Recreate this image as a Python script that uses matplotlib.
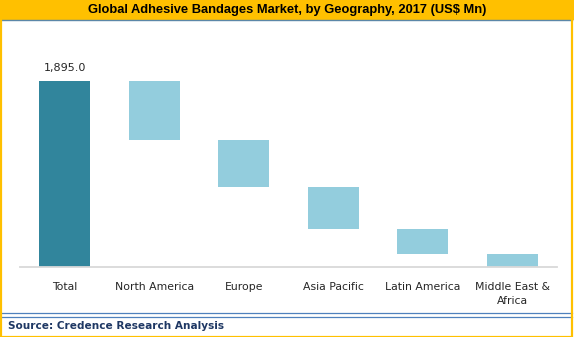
import numpy as np
import matplotlib
matplotlib.use('Agg')
import matplotlib.pyplot as plt
from matplotlib.patches import Rectangle
from matplotlib.lines import Line2D

# data
categories = ['Total', 'North America', 'Europe', 'Asia Pacific', 'Latin America', 'Middle East &\nAfrica']
total = 1895.0
regions = [601, 479, 425, 258, 132]

W, H = 574, 337
fig = plt.figure(figsize=(W/100, H/100), dpi=100)
fig.patch.set_facecolor('white')

# waterfall: each region hangs down from what is left of the total
heights = [total] + regions
bottoms = [0] + list(total - np.cumsum(regions))
colors = ['#31859C'] + ['#93CDDD']*len(regions)

ax = fig.add_axes([20/W, (H-267)/H, 537/W, 216/H])
x = np.arange(len(categories))
ax.bar(x, heights, bottom=bottoms, width=0.57, color=colors)
ax.set_xlim(-0.5, len(categories)-0.5)
ax.set_ylim(0, 2200)
ax.set_xticks(x)
ax.set_xticklabels(categories, fontsize=7.8, color='#262626', family='DejaVu Sans', linespacing=1.5)
ax.tick_params(axis='x', length=0, pad=11)
ax.set_yticks([])
for s in ['top', 'right', 'left']:
    ax.spines[s].set_visible(False)
ax.spines['bottom'].set_color('#d9d9d9')
ax.spines['bottom'].set_linewidth(1.3)

ax.text(0, total + 80, '{:,.1f}'.format(total), ha='center', va='bottom', fontsize=8, color='#262626')

# frame, title bar and source bar
gold = '#FFC000'
fig.patches.append(Rectangle((0, (H-19)/H), 1, 19/H, transform=fig.transFigure, color=gold, zorder=0))
fig.patches.append(Rectangle((0.5/W, 0.5/H), (W-3)/W, (H-1)/H, transform=fig.transFigure,
                             fill=False, edgecolor=gold, lw=1.6, zorder=5))
fig.lines.append(Line2D([0, (W-2)/W], [(H-19.5)/H]*2, transform=fig.transFigure, color='#5b87a8', lw=1))
for yy in [313, 316.5]:
    fig.lines.append(Line2D([1/W, (W-2)/W], [(H-yy)/H]*2, transform=fig.transFigure, color='#4F81BD', lw=0.9))

fig.text(0.5, (H-9.5)/H, 'Global Adhesive Bandages Market, by Geography, 2017 (US$ Mn)',
         ha='center', va='center', fontsize=9.3, fontweight='bold', color='black', family='Liberation Sans')
fig.text(8/W, (H-326)/H, 'Source: Credence Research Analysis', ha='left', va='center',
         fontsize=7.6, fontweight='bold', color='#1F3864', family='DejaVu Sans')

fig.savefig('out.png', dpi=100)
